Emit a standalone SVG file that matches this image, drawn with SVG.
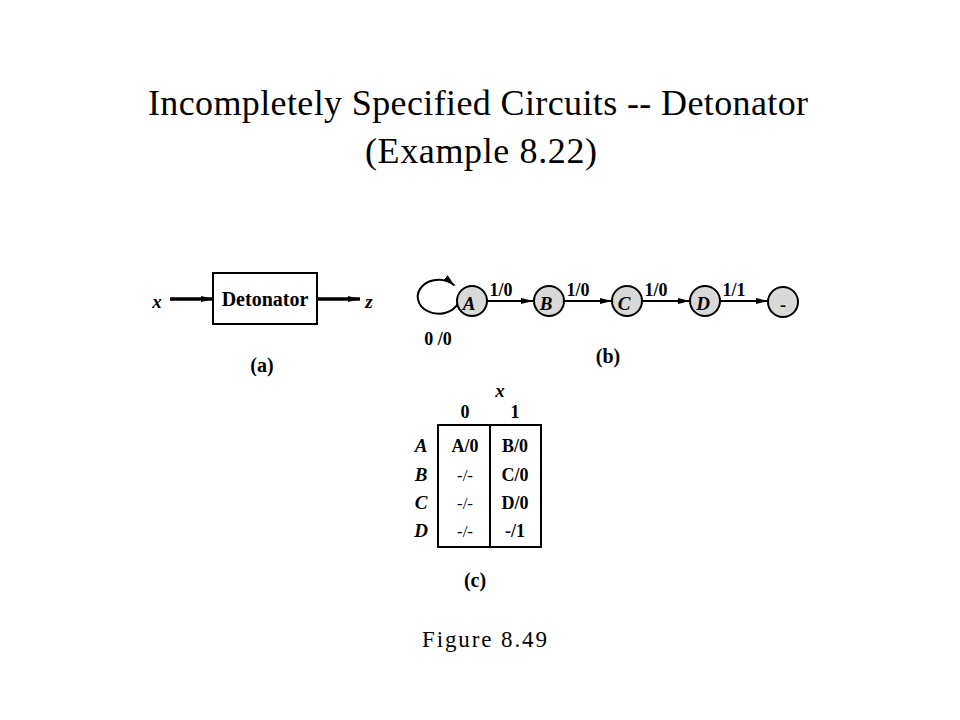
<svg xmlns="http://www.w3.org/2000/svg" width="960" height="720" viewBox="0 0 960 720">
<defs>
<style>
.title{font-family:"Liberation Serif","Times New Roman",serif;font-size:36px;fill:#000}
.cap{font-family:"Liberation Serif","Times New Roman",serif;font-size:23px;fill:#000}
.b{font-family:"Liberation Serif","Times New Roman",serif;font-weight:bold;font-size:18px;fill:#000}
.bl{font-family:"Liberation Serif","Times New Roman",serif;font-weight:bold;font-size:20px;fill:#000}
.bi{font-family:"Liberation Serif","Times New Roman",serif;font-weight:bold;font-style:italic;font-size:19px;fill:#000}
.n{font-family:"Liberation Serif","Times New Roman",serif;font-size:17px;fill:#000}
.st{fill:#d9d9d9;stroke:#000;stroke-width:2}
.ln{stroke:#000;stroke-width:2;fill:none}
.thick{stroke:#000;stroke-width:3.5;fill:none}
</style>
<marker id="ah" viewBox="0 0 12 6" refX="12" refY="3" markerWidth="12" markerHeight="6" markerUnits="userSpaceOnUse" orient="auto">
<path d="M0,0 L12,3 L0,6 Z" fill="#000"/>
</marker>
</defs>
<rect width="960" height="720" fill="#fff"/>
<text class="title" x="148" y="115" textLength="660" lengthAdjust="spacing">Incompletely Specified Circuits -- Detonator</text>
<text class="title" x="365" y="163" textLength="232" lengthAdjust="spacing">(Example 8.22)</text>

<g id="connectors">
<line class="thick" x1="170" y1="299" x2="213" y2="299" marker-end="url(#ah)"/>
<line class="thick" x1="317" y1="299" x2="360" y2="299" marker-end="url(#ah)"/>
<path class="ln" d="M458 303.5 A21 17 0 1 1 454.5 285.5" marker-end="url(#ah)"/>
<line class="ln" x1="487" y1="301" x2="533" y2="301" marker-end="url(#ah)"/>
<line class="ln" x1="564" y1="301" x2="612" y2="301" marker-end="url(#ah)"/>
<line class="ln" x1="642" y1="301" x2="690" y2="301" marker-end="url(#ah)"/>
<line class="ln" x1="720" y1="301" x2="768" y2="301" marker-end="url(#ah)"/>
</g>

<g id="block-a">
<rect x="213" y="273" width="104" height="51" fill="#fff" stroke="#000" stroke-width="2"/>
<text class="bl" x="265" y="306" text-anchor="middle">Detonator</text>
<text class="bi" x="157" y="308" text-anchor="middle">x</text>
<text class="bi" x="369" y="308" text-anchor="middle">z</text>
<text class="bl" x="262" y="372" text-anchor="middle">(a)</text>
</g>

<g id="node-A">
<circle class="st" cx="472" cy="301" r="15"/>
<text class="bi" x="469" y="310" text-anchor="middle">A</text>
</g>
<g id="node-B">
<circle class="st" cx="549" cy="301" r="15"/>
<text class="bi" x="546" y="310" text-anchor="middle">B</text>
</g>
<g id="node-C">
<circle class="st" cx="627" cy="301" r="15"/>
<text class="bi" x="624" y="310" text-anchor="middle">C</text>
</g>
<g id="node-D">
<circle class="st" cx="705" cy="301" r="15"/>
<text class="bi" x="703" y="310" text-anchor="middle">D</text>
</g>
<g id="node-dash">
<circle class="st" cx="783" cy="302" r="15"/>
<text class="b" x="783" y="311" text-anchor="middle">-</text>
</g>
<g id="labels-b">
<text class="b" x="501" y="296" text-anchor="middle">1/0</text>
<text class="b" x="578" y="296" text-anchor="middle">1/0</text>
<text class="b" x="656" y="296" text-anchor="middle">1/0</text>
<text class="b" x="734" y="296" text-anchor="middle">1/1</text>
<text class="b" x="438" y="345" text-anchor="middle">0 /0</text>
<text class="bl" x="608" y="363" text-anchor="middle">(b)</text>
</g>

<g id="table-c">
<rect x="438" y="425" width="103" height="122" fill="none" stroke="#000" stroke-width="2"/>
<line class="ln" x1="490" y1="425" x2="490" y2="547"/>
<text class="bi" x="500" y="397" text-anchor="middle">x</text>
<text class="b" x="465" y="418" text-anchor="middle">0</text>
<text class="b" x="515" y="418" text-anchor="middle">1</text>
<text class="bi" x="421" y="452" text-anchor="middle">A</text>
<text class="bi" x="421" y="481" text-anchor="middle">B</text>
<text class="bi" x="421" y="509" text-anchor="middle">C</text>
<text class="bi" x="421" y="537" text-anchor="middle">D</text>
<text class="b" x="465" y="452" text-anchor="middle">A/0</text>
<text class="b" x="515" y="452" text-anchor="middle">B/0</text>
<text class="n" x="465" y="481" text-anchor="middle">-/-</text>
<text class="b" x="515" y="481" text-anchor="middle">C/0</text>
<text class="n" x="465" y="509" text-anchor="middle">-/-</text>
<text class="b" x="515" y="509" text-anchor="middle">D/0</text>
<text class="n" x="465" y="537" text-anchor="middle">-/-</text>
<text class="b" x="515" y="537" text-anchor="middle">-/1</text>
<text class="bl" x="475" y="587" text-anchor="middle">(c)</text>
</g>

<text class="cap" x="422" y="647" textLength="125" lengthAdjust="spacing">Figure 8.49</text>
</svg>
